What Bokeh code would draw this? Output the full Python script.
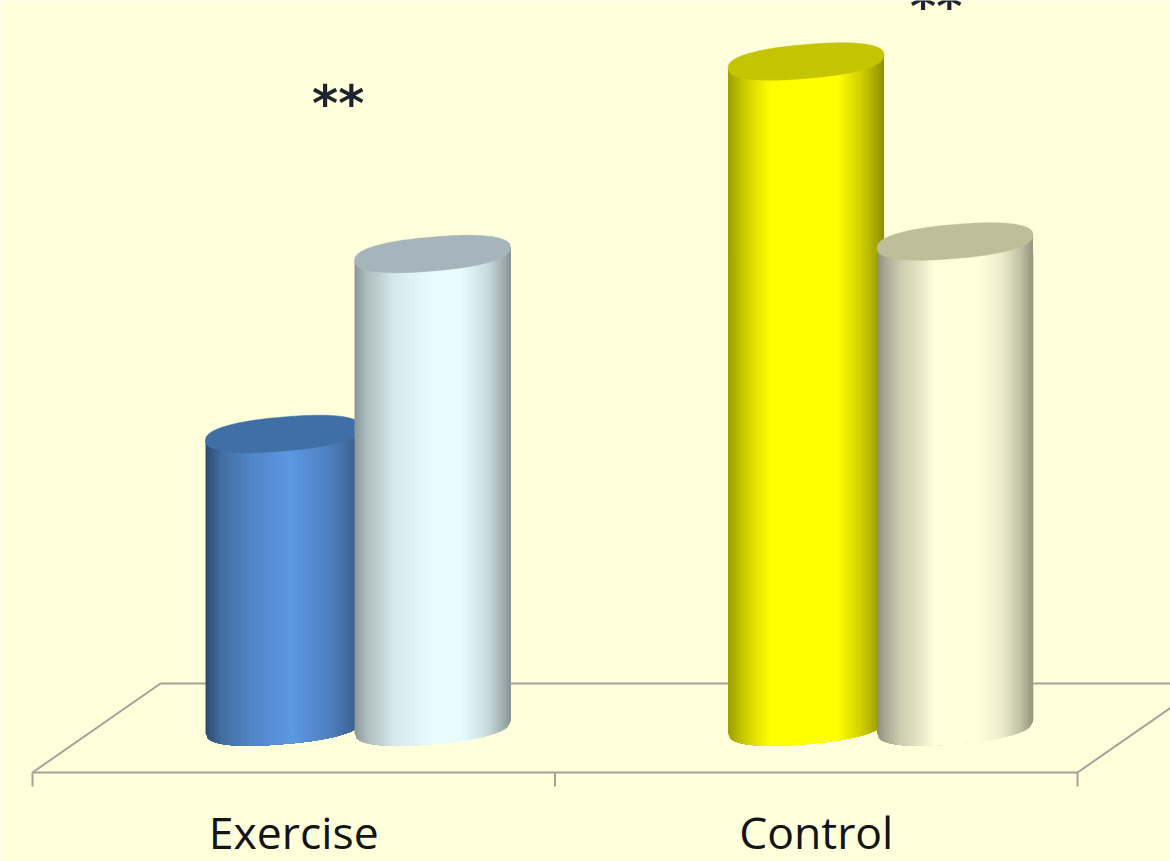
import numpy as np
from bokeh.core.properties import value
from bokeh.embed import file_html
from bokeh.models import ColumnDataSource, Range1d
from bokeh.plotting import figure
from bokeh.resources import INLINE

# Chart data: two groups, each with a pair of cylinders
groups = ["Exercise", "Control"]
first_series = [293.0, 665.5]
second_series = [473.0, 485.5]
significance = ["**", "**"]
significance_height = [623.0, 720.0]

# Brightest colour of each cylinder and the colour of its top face
first_colours = [(92, 152, 226), (255, 255, 0)]
second_colours = [(232, 252, 255), (255, 255, 220)]
cap_colours_first = ["#406fa5", "#c4c400"]
cap_colours_second = ["#a6b5bc", "#bebe9a"]

# Brightness across a cylinder's width, as (position, factor) stops
shade_first = [
    ([0.0, 0.1, 0.3, 0.55, 0.8, 0.93, 1.0], [0.48, 0.72, 0.88, 1.0, 0.84, 0.68, 0.55]),
    ([0.0, 0.12, 0.27, 0.7, 0.85, 1.0], [0.62, 0.82, 1.0, 1.0, 0.82, 0.56]),
]
shade_second = [
    ([0.0, 0.08, 0.25, 0.5, 0.68, 0.85, 0.95, 1.0], [0.6, 0.75, 0.92, 1.0, 1.0, 0.87, 0.7, 0.58]),
    ([0.0, 0.05, 0.15, 0.25, 0.37, 0.65, 0.8, 0.92, 1.0], [0.55, 0.66, 0.8, 0.88, 1.0, 1.0, 0.93, 0.75, 0.58]),
]

BACKGROUND = "#ffffdc"
FRAME = "#a3a39a"

# 3D layout in data units (one group is one unit wide)
PX = 522.5
GROUP_SHIFT = 0.123
BAR_SHIFT = 74.5 / PX
RADIUS = 78 / PX
DEPTH = 17.0
TILT = 6.5
ROUNDNESS = 0.85
STRIPS = 104

p = figure(
    width=1170,
    height=861,
    output_backend="svg",
    toolbar_location=None,
    x_range=Range1d(-32 / PX, (1170 - 32) / PX),
    y_range=Range1d(-134.5, 726.5),
    min_border=0,
    background_fill_color=BACKGROUND,
    border_fill_color=BACKGROUND,
)
p.axis.visible = False
p.grid.visible = False
p.outline_line_color = None

# Floor of the 3D plot area with its tick marks
FRONT, BACK, TICK = -45.5, 43.5, -59.5
p.multi_line(
    xs=[[0, 2], [128 / PX, 1138 / PX], [0, 128 / PX], [2, 2 + 128 / PX]],
    ys=[[FRONT, FRONT], [BACK, BACK], [FRONT, BACK], [FRONT, BACK]],
    line_color=FRAME, line_width=2, line_alpha=1,
)
p.segment(x0=[0, 1, 2], x1=[0, 1, 2], y0=[FRONT] * 3, y1=[TICK] * 3,
          line_color=FRAME, line_width=2, line_alpha=1)


def shaded(rgb, f):
    return "#%02x%02x%02x" % tuple(int(min(255, round(c * f))) for c in rgb)


def outline(t):
    """Unit outline of the slightly squared-off end face."""
    c, s = np.cos(t), np.sin(t)
    return np.sign(c) * np.abs(c) ** ROUNDNESS, np.sign(s) * np.abs(s) ** ROUNDNESS


def cylinder(cx, height, rgb, stops, cap):
    """Draws one cylinder left to right, each strip running on to the far edge
    so that later strips overpaint it and no seams let the floor show through."""
    edges = np.linspace(-1, 1, STRIPS + 1)
    xs, ys, colours = [], [], []
    for lo, hi in zip(edges[:-1], edges[1:]):
        fine = np.linspace(lo, 1, max(2, int((1 - lo) * 24) + 1))
        arc = DEPTH * np.clip(1 - np.abs(fine) ** (2 / ROUNDNESS), 0, 1) ** (ROUNDNESS / 2)
        bottom = TILT * fine - arc
        top = height + TILT * fine - arc
        xs.append(list(cx + RADIUS * fine) + list(cx + RADIUS * fine[::-1]))
        ys.append(list(bottom) + list(top[::-1]))
        colours.append(shaded(rgb, np.interp((lo + hi + 2) / 4, *stops)))
    p.patches(xs, ys, fill_color=colours, fill_alpha=1, line_color=None)

    ux, uy = outline(np.linspace(0, 2 * np.pi, 181))
    p.patch(cx + RADIUS * ux, height + TILT * ux + DEPTH * uy,
            fill_color=cap, fill_alpha=1, line_color=cap, line_alpha=1, line_width=0.5)


for i in range(len(groups)):
    centre = i + 0.5 + GROUP_SHIFT
    cylinder(centre - BAR_SHIFT, first_series[i], first_colours[i], shade_first[i], cap_colours_first[i])
    cylinder(centre + BAR_SHIFT, second_series[i], second_colours[i], shade_second[i], cap_colours_second[i])

# Group names under the floor
labels = ColumnDataSource(dict(x=[i + 0.5 for i in range(len(groups))],
                               y=[-104.5] * len(groups), text=groups))
p.text("x", "y", "text", source=labels, text_font=value("Open Sans"), text_font_size="44.5px",
       text_align="center", text_baseline="middle", text_color="#141414")

# Significance markers above each group
stars = ColumnDataSource(dict(x=[0.585, 1.7295], y=significance_height, text=significance))
p.text("x", "y", "text", source=stars, text_font=value("DejaVu Sans"), text_font_style="bold",
       text_font_size="50px", text_align="center", text_baseline="middle", text_color="#1c2430")

open("out.html", "w").write(file_html(p, INLINE))
